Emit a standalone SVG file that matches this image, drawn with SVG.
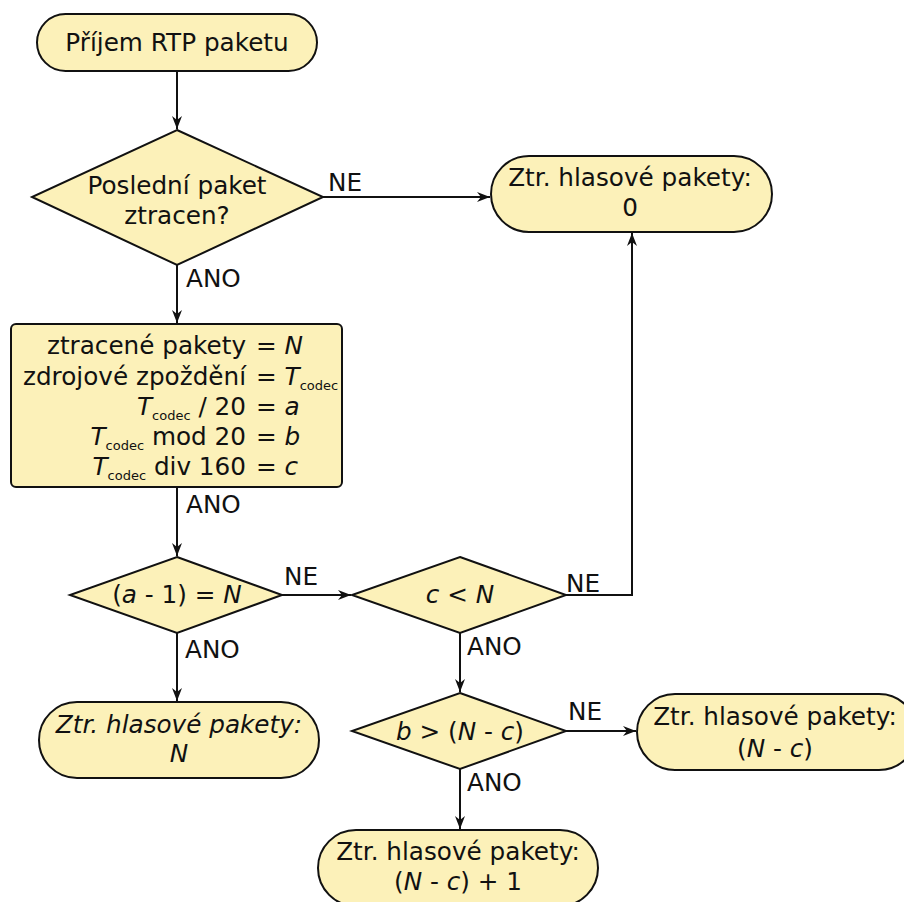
<svg xmlns="http://www.w3.org/2000/svg" width="904" height="902" viewBox="0 0 904 902">
<style>
.n{fill:#fcf1b9;stroke:#111;stroke-width:2}
.c{fill:none;stroke:#111;stroke-width:2}
text{font-family:"DejaVu Sans","Liberation Sans",sans-serif;font-size:24.7px;fill:#111}
.m{text-anchor:middle}
.e{text-anchor:end}
.i{font-style:italic}
.s{font-size:13px}
</style>
<defs>
<marker id="ar" markerUnits="userSpaceOnUse" markerWidth="16" markerHeight="14" viewBox="-15 -7 16 14" refX="0" refY="0" orient="auto">
<path d="M0,0 L-13,-5 L-9,0 L-13,5 z" fill="#111"/>
</marker>
</defs>
<rect width="904" height="902" fill="#fff"/>
<g id="connectors">
<path class="c" d="M177,71 V129" marker-end="url(#ar)"/>
<path class="c" d="M323,197 H490" marker-end="url(#ar)"/>
<path class="c" d="M177,265 V323" marker-end="url(#ar)"/>
<path class="c" d="M177,487 V556" marker-end="url(#ar)"/>
<path class="c" d="M282,595 H351" marker-end="url(#ar)"/>
<path class="c" d="M566,595 H632 V233" marker-end="url(#ar)"/>
<path class="c" d="M177,633 V701" marker-end="url(#ar)"/>
<path class="c" d="M460,633 V692" marker-end="url(#ar)"/>
<path class="c" d="M566,731 H636" marker-end="url(#ar)"/>
<path class="c" d="M460,769 V829" marker-end="url(#ar)"/>
<text x="328" y="191">NE</text>
<text x="186" y="287">ANO</text>
<text x="186" y="513">ANO</text>
<text x="284" y="585">NE</text>
<text x="185" y="658">ANO</text>
<text x="566" y="592">NE</text>
<text x="467" y="655">ANO</text>
<text x="568" y="720">NE</text>
<text x="467" y="791">ANO</text>
</g>
<g id="start">
<rect class="n" x="37" y="14" width="280" height="57" rx="28.5"/>
<text class="m" x="177" y="51">Příjem RTP paketu</text>
</g>
<g id="d1">
<polygon class="n" points="177,130 323,197 177,265 32,197"/>
<text class="m" x="177" y="194">Poslední paket</text>
<text class="m" x="177" y="224">ztracen?</text>
</g>
<g id="t0">
<rect class="n" x="491" y="156" width="281" height="76" rx="38"/>
<text class="m" x="630" y="186">Ztr. hlasové pakety:</text>
<text class="m" x="630" y="216">0</text>
</g>
<g id="box">
<rect class="n" x="11" y="324" width="331" height="163" rx="5"/>
<text class="e" x="246" y="354">ztracené pakety</text>
<text x="256" y="354">= <tspan class="i">N</tspan></text>
<text class="e" x="246" y="385">zdrojové zpoždění</text>
<text x="256" y="385">= <tspan class="i">T</tspan><tspan class="s" dy="5">codec</tspan></text>
<text class="e" x="246" y="415"><tspan class="i">T</tspan><tspan class="s" dy="5">codec</tspan><tspan dy="-5">  / 20</tspan></text>
<text x="256" y="415">= <tspan class="i">a</tspan></text>
<text class="e" x="246" y="445"><tspan class="i">T</tspan><tspan class="s" dy="5">codec</tspan><tspan dy="-5"> mod 20</tspan></text>
<text x="256" y="445">= <tspan class="i">b</tspan></text>
<text class="e" x="246" y="475"><tspan class="i">T</tspan><tspan class="s" dy="5">codec</tspan><tspan dy="-5"> div 160</tspan></text>
<text x="256" y="475">= <tspan class="i">c</tspan></text>
</g>
<g id="d2">
<polygon class="n" points="177,557 282,595 177,633 70,595"/>
<text class="m" x="177" y="603">(<tspan class="i">a</tspan> - 1) = <tspan class="i">N</tspan></text>
</g>
<g id="d3">
<polygon class="n" points="460,557 566,595 460,633 352,595"/>
<text class="m" x="460" y="603"><tspan class="i">c</tspan> &lt; <tspan class="i">N</tspan></text>
</g>
<g id="tN">
<rect class="n" x="39" y="702" width="280" height="76" rx="38"/>
<text class="m i" x="179" y="733">Ztr. hlasové pakety:</text>
<text class="m i" x="179" y="762">N</text>
</g>
<g id="d4">
<polygon class="n" points="460,693 566,731 460,769 352,731"/>
<text class="m" x="460" y="740"><tspan class="i">b</tspan> &gt; (<tspan class="i">N</tspan> - <tspan class="i">c</tspan>)</text>
</g>
<g id="tNc">
<rect class="n" x="637" y="694" width="280" height="76" rx="38"/>
<text class="m" x="775" y="725">Ztr. hlasové pakety:</text>
<text class="m" x="775" y="757">(<tspan class="i">N</tspan> - <tspan class="i">c</tspan>)</text>
</g>
<g id="tNc1">
<rect class="n" x="318" y="830" width="280" height="76" rx="38"/>
<text class="m" x="458" y="860">Ztr. hlasové pakety:</text>
<text class="m" x="458" y="890">(<tspan class="i">N</tspan> - <tspan class="i">c</tspan>) + 1</text>
</g>
</svg>
